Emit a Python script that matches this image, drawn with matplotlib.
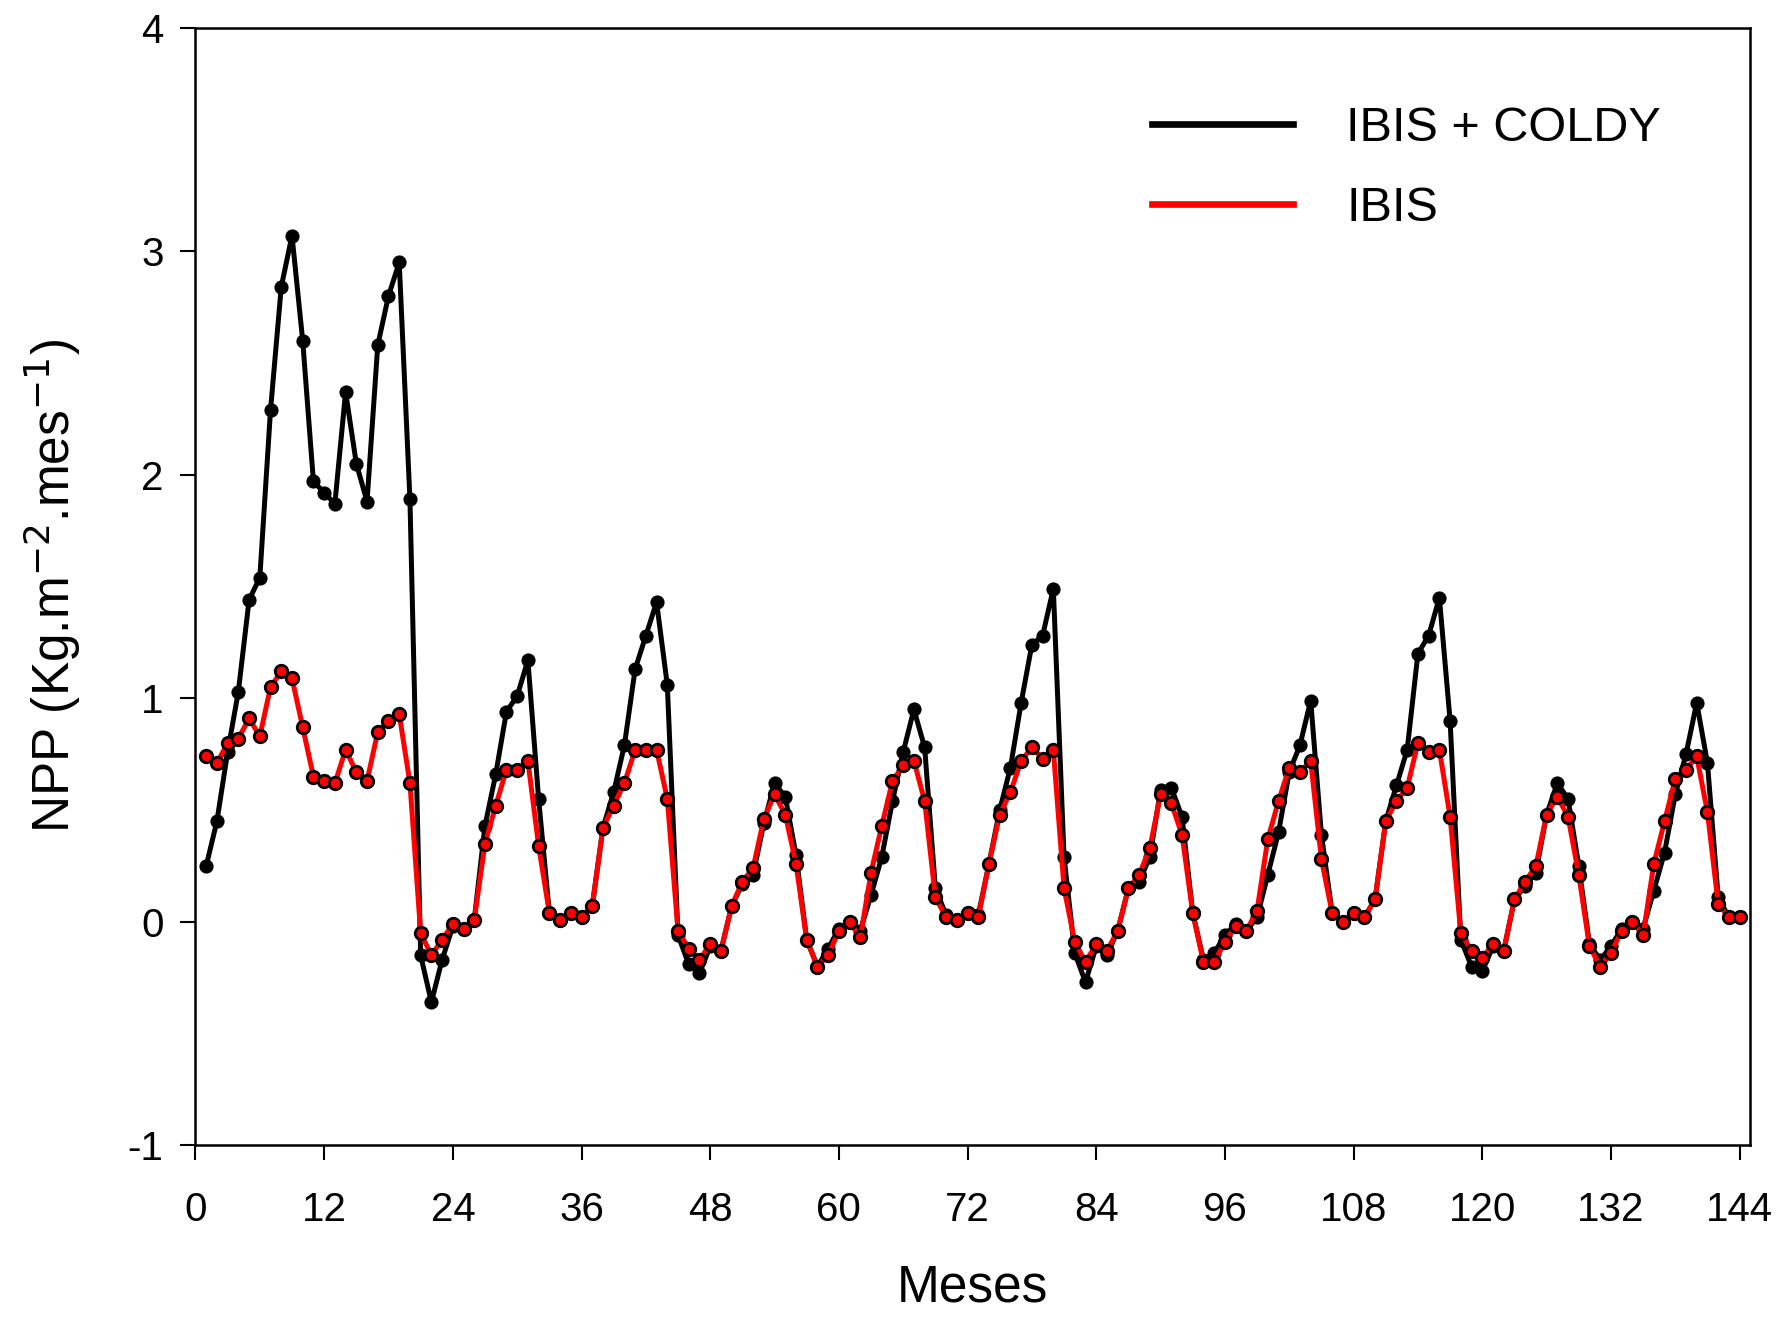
import numpy as np
import matplotlib
matplotlib.use("Agg")
import matplotlib.pyplot as plt

plt.rcParams['font.family'] = ['Liberation Sans', 'DejaVu Sans']
plt.rcParams['axes.unicode_minus'] = False

# months 1..144
meses = np.arange(1, 145)

ibis_coldy = [
    0.25, 0.45, 0.76, 1.03, 1.44, 1.54, 2.29, 2.84, 3.07, 2.60, 1.97, 1.92,
    1.87, 2.37, 2.05, 1.88, 2.58, 2.80, 2.95, 1.89, -0.15, -0.36, -0.17, -0.02,
    -0.03, 0.01, 0.43, 0.66, 0.94, 1.01, 1.17, 0.55, 0.04, 0.01, 0.04, 0.02,
    0.07, 0.42, 0.58, 0.79, 1.13, 1.28, 1.43, 1.06, -0.06, -0.19, -0.23, -0.11,
    -0.13, 0.07, 0.17, 0.21, 0.44, 0.62, 0.56, 0.30, -0.08, -0.20, -0.12, -0.03,
    0.00, -0.04, 0.12, 0.29, 0.54, 0.76, 0.95, 0.78, 0.15, 0.03, 0.01, 0.04,
    0.03, 0.26, 0.50, 0.69, 0.98, 1.24, 1.28, 1.49, 0.29, -0.14, -0.27, -0.11,
    -0.15, -0.04, 0.15, 0.18, 0.29, 0.59, 0.60, 0.47, 0.04, -0.17, -0.14, -0.06,
    -0.01, -0.04, 0.02, 0.21, 0.40, 0.67, 0.79, 0.99, 0.39, 0.04, 0.00, 0.04,
    0.02, 0.10, 0.45, 0.61, 0.77, 1.20, 1.28, 1.45, 0.90, -0.08, -0.20, -0.22,
    -0.11, -0.13, 0.10, 0.16, 0.22, 0.48, 0.62, 0.55, 0.25, -0.10, -0.17, -0.11,
    -0.03, 0.00, -0.03, 0.14, 0.31, 0.57, 0.75, 0.98, 0.71, 0.11, 0.02, 0.02,
]

ibis = [
    0.74, 0.71, 0.80, 0.82, 0.91, 0.83, 1.05, 1.12, 1.09, 0.87, 0.65, 0.63,
    0.62, 0.77, 0.67, 0.63, 0.85, 0.90, 0.93, 0.62, -0.05, -0.15, -0.08, -0.01,
    -0.03, 0.01, 0.35, 0.52, 0.68, 0.68, 0.72, 0.34, 0.04, 0.01, 0.04, 0.02,
    0.07, 0.42, 0.52, 0.62, 0.77, 0.77, 0.77, 0.55, -0.04, -0.12, -0.17, -0.10,
    -0.13, 0.07, 0.18, 0.24, 0.46, 0.57, 0.48, 0.26, -0.08, -0.20, -0.15, -0.04,
    0.00, -0.07, 0.22, 0.43, 0.63, 0.70, 0.72, 0.54, 0.11, 0.02, 0.01, 0.04,
    0.02, 0.26, 0.48, 0.58, 0.72, 0.78, 0.73, 0.77, 0.15, -0.09, -0.18, -0.10,
    -0.13, -0.04, 0.15, 0.21, 0.33, 0.57, 0.53, 0.39, 0.04, -0.18, -0.18, -0.09,
    -0.02, -0.04, 0.05, 0.37, 0.54, 0.69, 0.67, 0.72, 0.28, 0.04, 0.00, 0.04,
    0.02, 0.10, 0.45, 0.54, 0.60, 0.80, 0.76, 0.77, 0.47, -0.05, -0.13, -0.16,
    -0.10, -0.13, 0.10, 0.18, 0.25, 0.48, 0.56, 0.47, 0.21, -0.11, -0.20, -0.14,
    -0.04, 0.00, -0.06, 0.26, 0.45, 0.64, 0.68, 0.74, 0.49, 0.08, 0.02, 0.02,
]

fig = plt.figure(figsize=(17.77, 13.18), dpi=100)
ax = fig.add_axes([0.110, 0.131, 0.875, 0.848])

ax.plot(meses, ibis_coldy, color='black', lw=3.6, marker='o', ms=9,
        mfc='black', mec='black', mew=1.2, label='IBIS + COLDY', zorder=2)
ax.plot(meses, ibis, color='red', lw=3.6, marker='o', ms=9,
        mfc='red', mec='black', mew=2.0, label='IBIS', zorder=3)

ax.set_xlim(0, 145)
ax.set_ylim(-1, 4)
ax.set_xticks(np.arange(0, 145, 12))
ax.set_yticks(np.arange(-1, 5, 1))
ax.tick_params(axis='both', direction='out', length=11, width=1.5,
               labelsize=29)
ax.tick_params(axis='y', pad=12)
ax.tick_params(axis='x', pad=22)
for s in ax.spines.values():
    s.set_linewidth(1.8)

ax.set_xlabel('Meses', fontsize=37, labelpad=25)
ax.set_ylabel('NPP (Kg.m$^{-2}$.mes$^{-1}$)', fontsize=37, labelpad=32)

leg = ax.legend(loc='upper right', bbox_to_anchor=(0.955, 0.947),
                borderaxespad=0, frameon=False,
                fontsize=35, handlelength=2.9, handletextpad=1.1,
                labelspacing=0.72)
for h in leg.get_lines():
    h.set_marker('')
    h.set_linewidth(4.8)

fig.savefig('out.png', dpi=100)
